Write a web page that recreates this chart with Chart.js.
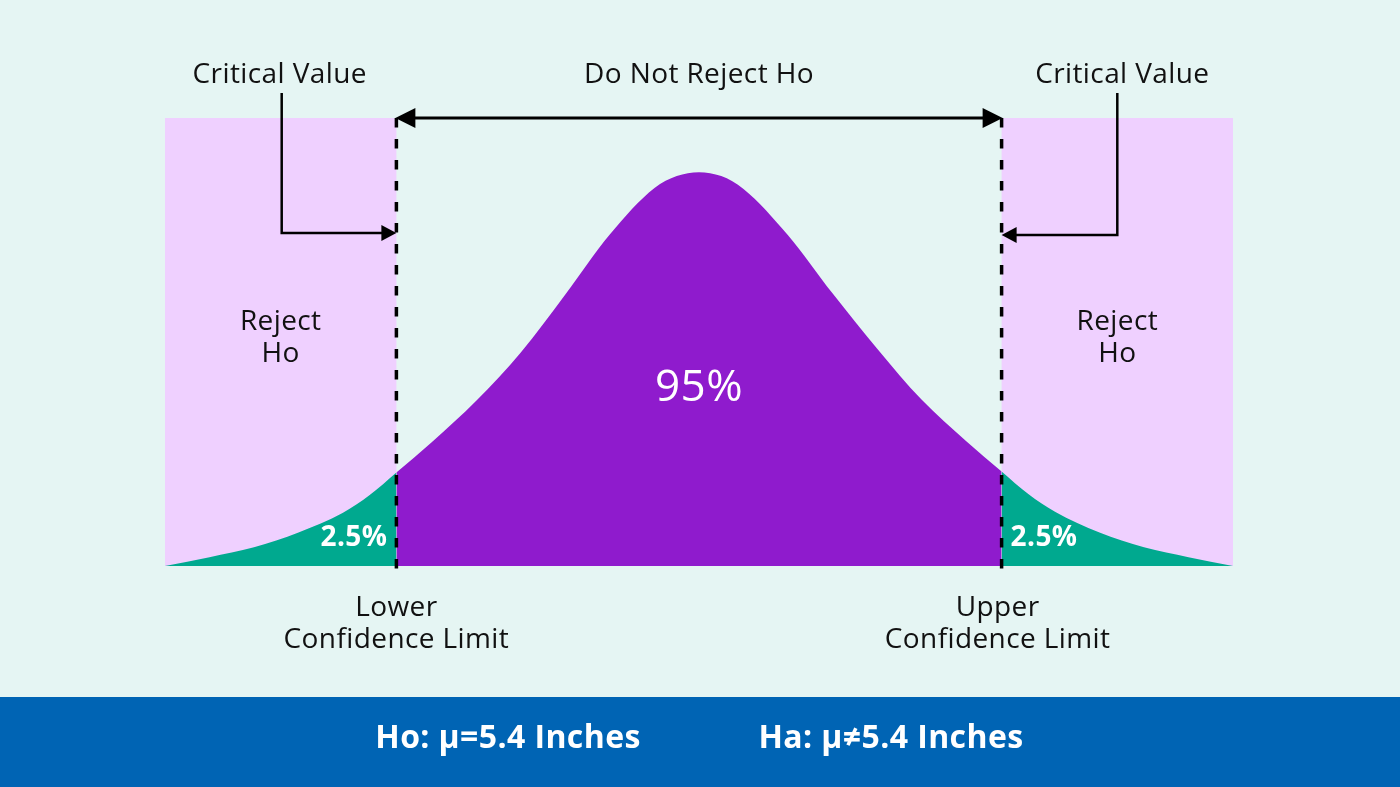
<!DOCTYPE html>
<html>
<head>
<meta charset="utf-8">
<script src="https://cdn.jsdelivr.net/npm/chart.js@4"></script>
<style>
  html, body { margin: 0; padding: 0; background: #e5f5f3; }
  canvas { display: block; }
</style>
</head>
<body>
<canvas id="ciChart" width="1400" height="787"></canvas>
<script>
// curve (z units, density)
const zValues = [-3, -2.75, -2.5, -2.25, -2, -1.85, -1.7, -1.5, -1.25, -1, -0.75, -0.5, -0.25, -0.125, 0,
                 0.125, 0.25, 0.5, 0.75, 1, 1.25, 1.5, 1.7, 1.85, 2, 2.25, 2.5, 2.75, 3];
const density = [0, 0.009, 0.019, 0.034, 0.054, 0.072, 0.095, 0.126, 0.168, 0.217, 0.276, 0.337, 0.384, 0.396, 0.400,
                 0.396, 0.383, 0.336, 0.277, 0.221, 0.169, 0.127, 0.096, 0.073, 0.055, 0.034, 0.019, 0.009, 0];
const criticalValues = [-1.7, 1.7];
const tailLabel = "2.5%";
const centerLabel = "95%";
const hypotheses = ["Ho: μ=5.4 Inches", "Ha: μ≠5.4 Inches"];

const BG = "#e5f5f3";
const PINK = "#efd0ff";
const PURPLE = "#8f1bcd";
const TEAL = "#00a98f";
const BLUE = "#0064b4";
const FONT = "'Open Sans', Lato, sans-serif";

function pointsBetween(lo, hi) {
    let pts = [];
    zValues.forEach((z, i) => {
        if (z >= lo && z <= hi) pts.push({ x: z, y: density[i] });
    });
    return pts;
}

function arrowHead(ctx, x, y, dir, len, half) {
    // dir: 1 points right, -1 points left
    ctx.beginPath();
    ctx.moveTo(x, y);
    ctx.lineTo(x - dir * len, y - half);
    ctx.lineTo(x - dir * len, y + half);
    ctx.closePath();
    ctx.fill();
}

function text(ctx, str, x, y, size, weight, color, align) {
    ctx.font = weight + " " + size + "px " + FONT;
    ctx.fillStyle = color;
    ctx.textAlign = align || "center";
    ctx.textBaseline = "middle";
    ctx.letterSpacing = "0.4px";
    ctx.fillText(str, x, y);
}

const decor = {
    id: "decor",
    beforeDraw(chart) {
        const ctx = chart.ctx;
        ctx.save();
        ctx.fillStyle = BG;
        ctx.fillRect(0, 0, chart.width, chart.height);
        ctx.fillStyle = BLUE;
        ctx.fillRect(0, 697, chart.width, chart.height - 697);
        ctx.restore();
    },
    beforeDatasetsDraw(chart) {
        const ctx = chart.ctx;
        const xs = chart.scales.x;
        const area = chart.chartArea;
        const xl = xs.getPixelForValue(criticalValues[0]);
        const xr = xs.getPixelForValue(criticalValues[1]);
        ctx.save();
        ctx.fillStyle = PINK;
        ctx.fillRect(area.left, area.top, xl - area.left, area.bottom - area.top);
        ctx.fillRect(xr, area.top, area.right - xr, area.bottom - area.top);
        ctx.restore();
    },
    afterDatasetsDraw(chart) {
        const ctx = chart.ctx;
        const xs = chart.scales.x;
        const ys = chart.scales.y;
        const area = chart.chartArea;
        const xl = xs.getPixelForValue(criticalValues[0]);
        const xr = xs.getPixelForValue(criticalValues[1]);
        const xc = xs.getPixelForValue(0);
        const top = area.top;
        const base = ys.getPixelForValue(0);

        ctx.save();
        ctx.strokeStyle = "#000";
        ctx.fillStyle = "#000";

        // dashed critical lines
        ctx.lineWidth = 3.5;
        ctx.setLineDash([9.5, 11.5]);
        [xl, xr].forEach(x => {
            ctx.beginPath();
            ctx.moveTo(x, top);
            ctx.lineTo(x, base + 10);
            ctx.stroke();
        });
        ctx.setLineDash([]);

        // double arrow "do not reject"
        ctx.lineWidth = 3;
        ctx.beginPath();
        ctx.moveTo(xl + 10, top);
        ctx.lineTo(xr - 10, top);
        ctx.stroke();
        arrowHead(ctx, xl - 1, top, -1, 20, 10);
        arrowHead(ctx, xr + 1, top, 1, 20, 10);

        // leaders from "Critical Value"
        const lx = (area.left + xl) / 2 + 1;
        const rx = (xr + area.right) / 2;
        ctx.lineWidth = 2.5;
        ctx.beginPath();
        ctx.moveTo(lx, 93);
        ctx.lineTo(lx, top + 115);
        ctx.lineTo(xl - 10, top + 115);
        ctx.stroke();
        arrowHead(ctx, xl, top + 115, 1, 15, 8);
        ctx.beginPath();
        ctx.moveTo(rx, 93);
        ctx.lineTo(rx, top + 117);
        ctx.lineTo(xr + 10, top + 117);
        ctx.stroke();
        arrowHead(ctx, xr, top + 117, -1, 15, 8);

        // labels
        text(ctx, "Critical Value", lx - 2, 75, 28, "normal", "#111");
        text(ctx, "Critical Value", rx + 5, 75, 28, "normal", "#111");
        text(ctx, "Do Not Reject Ho", xc, 75, 28, "normal", "#111");
        text(ctx, "Reject", lx - 1, 322, 28, "normal", "#111");
        text(ctx, "Ho", lx - 1, 354, 28, "normal", "#111");
        text(ctx, "Reject", rx, 322, 28, "normal", "#111");
        text(ctx, "Ho", rx, 354, 28, "normal", "#111");
        text(ctx, centerLabel, xc, 388, 44, "normal", "#fff");
        text(ctx, tailLabel, xl - 9, 538, 28, "bold", "#fff", "right");
        text(ctx, tailLabel, xr + 9, 538, 28, "bold", "#fff", "left");
        text(ctx, "Lower", xl, 608, 28, "normal", "#111");
        text(ctx, "Confidence Limit", xl, 640, 28, "normal", "#111");
        text(ctx, "Upper", xr - 4, 608, 28, "normal", "#111");
        text(ctx, "Confidence Limit", xr - 4, 640, 28, "normal", "#111");
        text(ctx, hypotheses[0], 508, 739, 32, "bold", "#fff");
        text(ctx, hypotheses[1], 891, 739, 32, "bold", "#fff");
        ctx.restore();
    }
};

const ctx = document.getElementById("ciChart").getContext("2d");
new Chart(ctx, {
    type: "line",
    data: {
        datasets: [
            {
                label: "lower tail",
                data: pointsBetween(-3, criticalValues[0]),
                backgroundColor: TEAL,
                borderWidth: 0,
                fill: "origin"
            },
            {
                label: "middle",
                data: pointsBetween(criticalValues[0], criticalValues[1]),
                backgroundColor: PURPLE,
                borderWidth: 0,
                fill: "origin"
            },
            {
                label: "upper tail",
                data: pointsBetween(criticalValues[1], 3),
                backgroundColor: TEAL,
                borderWidth: 0,
                fill: "origin"
            }
        ]
    },
    options: {
        responsive: false,
        animation: false,
        elements: { point: { radius: 0 }, line: { cubicInterpolationMode: "monotone" } },
        layout: { padding: { left: 165, right: 167, top: 118, bottom: 221 } },
        scales: {
            x: { type: "linear", min: -3, max: 3, display: false },
            y: { min: 0, max: 0.455, display: false }
        },
        plugins: {
            legend: { display: false },
            tooltip: { enabled: false }
        }
    },
    plugins: [decor]
});
</script>
</body>
</html>
